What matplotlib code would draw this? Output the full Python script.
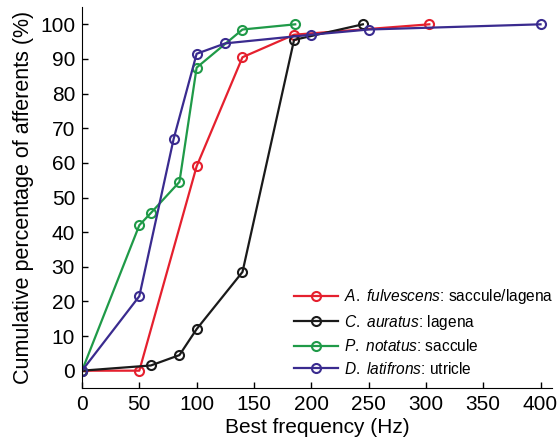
import numpy as np
import matplotlib as mpl
import matplotlib.pyplot as plt

mpl.rcParams['font.family'] = 'Liberation Sans'
mpl.rcParams['mathtext.fontset'] = 'custom'
mpl.rcParams['mathtext.rm'] = 'Liberation Sans'
mpl.rcParams['mathtext.it'] = 'Liberation Sans:italic'

# Best frequency (Hz) and cumulative percentage for each species
fulv_x = [0, 50, 100, 140, 185, 303]
fulv_y = [0, 0, 59, 90.5, 97, 100]
aur_x = [0, 60, 85, 100, 140, 185, 245]
aur_y = [0, 1.5, 4.5, 12, 28.5, 95.5, 100]
not_x = [0, 50, 60, 85, 100, 140, 186]
not_y = [0, 42, 45.5, 54.5, 87.5, 98.5, 100]
lat_x = [0, 50, 80, 100, 125, 200, 250, 400]
lat_y = [0, 21.5, 67, 91.5, 94.5, 97, 98.5, 100]

labels = [r'$\it{A.\ fulvescens}$: saccule/lagena',
          r'$\it{C.\ auratus}$: lagena',
          r'$\it{P.\ notatus}$: saccule',
          r'$\it{D.\ latifrons}$: utricle']
colors = ['#e5202e', '#1a1a1a', '#1f9a48', '#3a2b8f']

fig = plt.figure(figsize=(5.58, 4.48), dpi=100)
ax = fig.add_axes([82/558, 1-388/448, (552-82)/558, (388-7)/448])

series = [(fulv_x, fulv_y), (aur_x, aur_y), (not_x, not_y), (lat_x, lat_y)]
for (x, y), c, lab in zip(series, colors, labels):
    ax.plot(x, y, color=c, lw=1.6, marker='o', ms=6.5, mfc='none',
            mec=c, mew=1.5, label=lab)

ax.set_xlim(0, 410)
ax.set_ylim(-5, 105)
ax.set_xticks(np.arange(0, 401, 50))
ax.set_yticks(np.arange(0, 101, 10))
ax.spines['top'].set_visible(False)
ax.spines['right'].set_visible(False)
ax.tick_params(direction='in', length=4, labelsize=15, width=1)
ax.tick_params(axis='x', pad=5)
ax.tick_params(axis='y', pad=5)
ax.set_xlabel('Best frequency (Hz)', fontsize=15, labelpad=3)
ax.set_ylabel('Cumulative percentage of afferents (%)', fontsize=15.5, labelpad=4)

fig.legend(loc='upper left', bbox_to_anchor=(294/558, 1-287/448),
           frameon=False, fontsize=11.2, handlelength=2.8,
           handletextpad=0.4, labelspacing=0.42, borderpad=0,
           borderaxespad=0)

fig.savefig('out.png', dpi=100)
